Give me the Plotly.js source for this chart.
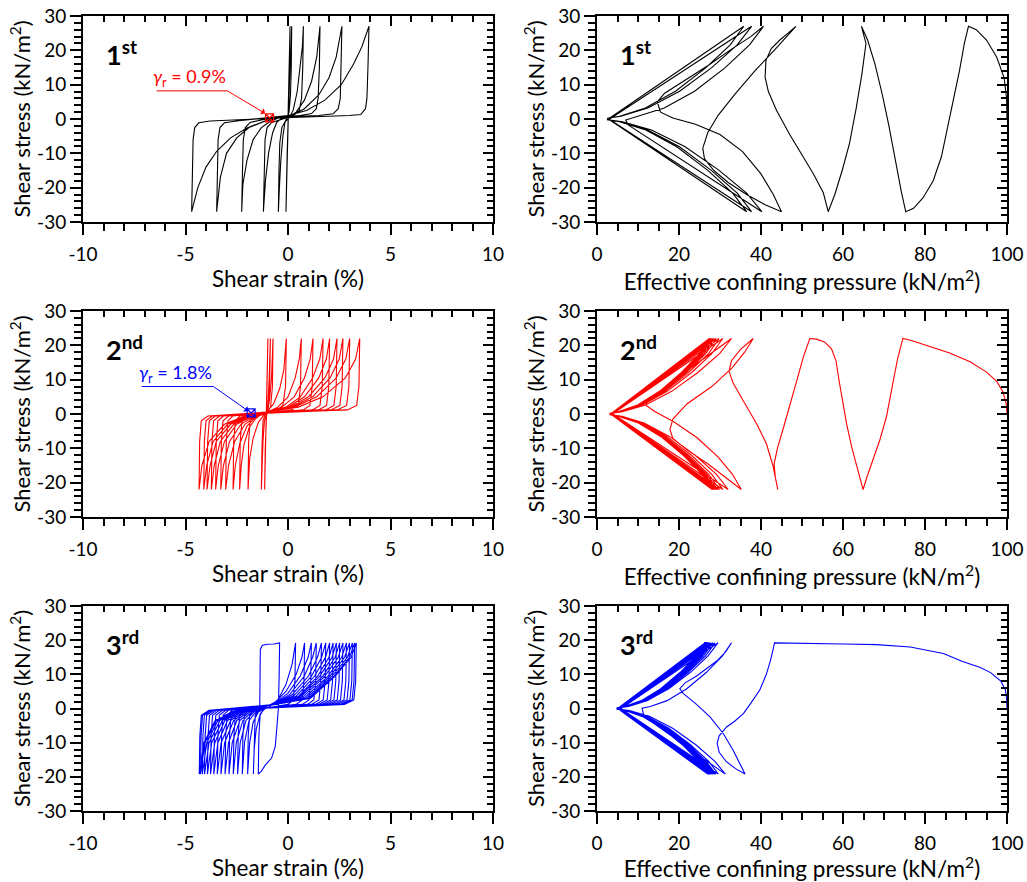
<!DOCTYPE html>
<html><head><meta charset="utf-8">
<script src="https://cdn.plot.ly/plotly-3.0.1.min.js"></script>
<style>html,body{margin:0;padding:0;background:#fff}#chart{width:1027px;height:882px}</style>
</head><body><div id="chart"></div>
<script>
// ---------- DATA ----------
// [shear strain (%), shear stress (kN/m2)] - stage 1
const stage1StressStrain = [
 [0,0],[0.03,10],[0.06,20],[0.10,27],
 [0.08,15],[0.04,5],[0,-2],[-0.04,-10],[-0.07,-18],[-0.10,-27],
 [-0.07,-15],[-0.03,-5],[0.02,2],[0.07,10],[0.12,18],[0.18,27],
 [0.16,15],[0.12,7],[0.05,2],[-0.05,0.5],[-0.15,-1],[-0.25,-5],[-0.35,-12],[-0.42,-20],[-0.47,-27],
 [-0.44,-15],[-0.40,-7],[-0.3,-2.5],[-0.15,-0.8],[0.05,0.3],[0.25,2.5],[0.45,8],[0.6,15],[0.7,21],[0.75,27],
 [0.72,15],[0.66,6],[0.55,2.5],[0.3,1.2],[0,0.8],[-0.3,0.3],[-0.55,-1],[-0.75,-4],[-0.95,-10],[-1.1,-18],[-1.2,-27],
 [-1.17,-15],[-1.12,-6],[-1.02,-2.5],[-0.8,-1],[-0.4,-0.3],[0,0.5],[0.4,2],[0.8,5.5],[1.15,11],[1.4,18],[1.56,27],
 [1.53,15],[1.47,6],[1.38,3],[1.15,1.6],[0.6,1],[0,0.7],[-0.5,0.2],[-0.9,-0.8],[-1.3,-2.5],[-1.7,-6],[-2.0,-12],[-2.2,-19],[-2.26,-27],
 [-2.22,-15],[-2.18,-6],[-2.08,-2.5],[-1.85,-1],[-1.3,-0.3],[-0.5,0.4],[0.2,1.2],[0.8,3],[1.5,7],[2.0,12],[2.35,18],[2.63,27],
 [2.6,15],[2.55,6],[2.45,3],[2.2,1.5],[1.5,1],[0.5,0.8],[-0.5,0.3],[-1.2,-0.8],[-1.9,-2.5],[-2.5,-5.5],[-3.0,-10],[-3.3,-17],[-3.48,-27],
 [-3.45,-15],[-3.41,-6],[-3.32,-2.5],[-3.1,-1.1],[-2.4,-0.5],[-1.2,0.3],[0,1],[0.9,2.5],[1.8,5.5],[2.6,10],[3.2,16],[3.6,21],[3.95,27],
 [3.9,15],[3.85,6],[3.78,3],[3.55,1.3],[3.0,1.0],[2,0.8],[0.5,0.6],[-0.5,0.3],[-1.0,-0.3],[-2.0,-2.6],[-2.8,-5.5],[-3.48,-9.4],[-4.0,-14],[-4.4,-20],[-4.7,-27],
 [-4.67,-15],[-4.63,-6],[-4.55,-2.5],[-4.35,-1.1],[-3.8,-0.6],[-2.5,-0.3],[-1.2,0],[-0.5,0.3]
];
// [effective confining pressure (kN/m2), shear stress (kN/m2)] - stage 1
const stage1StressPath = [
 [100,0],[99.9,6],[99.3,12],[97.5,18],[95,23],[92.5,26],[90.6,27],
 [89.6,22],[88.4,14],[87,6],[85.5,-3],[84,-11],[82,-18],[79.5,-23],[77.2,-26],[75.3,-27],
 [74.2,-21],[72.8,-12],[71.2,-2],[69.6,7],[67.8,16],[66,23],[64.5,27],
 [65.6,22],[64.6,13],[63.2,3],[61.6,-7],[59.8,-15],[58,-22],[56.4,-27],
 [55.2,-21.5],[52.8,-16],[50.3,-11],[47,-4.5],[43.8,2.5],[41.8,8],[41,12.2],[41.2,17],[42.5,20.5],[44.6,23],[46.6,25],[48.5,27],
 [44,21],[38.5,14],[33.5,7],[29.5,1],[27,-4],[25.8,-8.5],[26.2,-11.5],[28.5,-15],[32,-18.5],[36.5,-22],[41,-25],[45,-27],
 [43,-22],[40,-16],[35.5,-9.5],[30,-4.5],[24,-1.5],[18.5,0.3],[15.5,2],[14.7,5],[16.5,7.5],[21,11],[27,15.5],[33,20.5],[37.5,24],[40.6,27],
 [37.2,21.6],[31.2,14.9],[23.8,8.1],[16.4,3.2],[10,0.8],[7,-0.3],[7.6,-1.7],[40.2,-27],
 [36.5,-21.6],[29.7,-14.9],[21.5,-8.1],[13.3,-3.2],[6.2,-0.8],[2.8,-0.2],[37.7,27],
 [34.2,21.6],[27.9,14.9],[20.15,8.1],[12.4,3.2],[5.8,0.8],[2.6,0.2],[37.7,-27],
 [34.2,-21.6],[27.8,-14.9],[20.1,-8.1],[12.4,-3.2],[5.7,-0.8],[2.5,-0.2],[35.8,27],
 [32.5,21.6],[26.5,14.9],[19.15,8.1],[11.8,3.2],[5.5,0.8],[2.5,0.2],[36.5,-27],
 [33.1,-21.6],[26.95,-14.9],[19.45,-8.1],[11.9,-3.2],[5.5,-0.8],[2.4,-0.2]
];
// stage 2
const stage2StressStrain = [
 [-1.05,0],[-1.02,10],[-0.98,22],
 [-1.01,10],[-1.05,0],[-1.09,-10],[-1.14,-22],
 [-1.11,-10],[-1.05,-1],[-0.98,3],[-0.92,10],[-0.86,22],
 [-0.89,10],[-0.95,2],[-1.05,0.3],[-1.15,-2],[-1.22,-8],[-1.27,-15],[-1.30,-22],
 [-1.27,-10],[-1.22,-2],[-1.12,-0.2],[-1.0,1],[-0.9,4],[-0.8,11],[-0.73,22],
 [-0.76,8],[-0.85,2],[-1.0,0.5],[-1.2,-0.5],[-1.45,-2.5],[-1.7,-7],[-1.87,-13],[-1.95,-22],
 [-1.92,-8],[-1.85,-2],[-1.7,-0.6],[-1.3,0],[-1.0,0.8],[-0.7,3],[-0.4,7.5],[-0.2,13],[-0.08,22],
 [-0.12,8],[-0.25,2.5],[-0.55,1.2],[-1.0,0.6],[-1.3,0.0],[-1.6,-1.5],[-1.9,-4],[-2.15,-9],[-2.28,-15],[-2.36,-22],
 [-2.33,-8],[-2.25,-2],[-2.05,-0.6],[-1.5,-0.1],[-1.0,0.6],[-0.5,2],[0,5],[0.35,10.5],[0.55,16],[0.65,22],
 [0.61,8],[0.5,2.5],[0.2,1.2],[-0.5,0.7],[-1.2,0.1],[-1.6,-1],[-2.0,-3.5],[-2.35,-8.5],[-2.57,-15],[-2.68,-22],
 [-2.65,-8],[-2.57,-2],[-2.35,-0.6],[-1.7,-0.1],[-1.0,0.6],[-0.3,2],[0.3,5],[0.8,10.5],[1.08,16],[1.22,22],
 [1.18,8],[1.07,2.5],[0.75,1.2],[0,0.8],[-1.0,0.2],[-1.6,-0.8],[-2.1,-3],[-2.6,-8],[-2.9,-15],[-3.04,-22],
 [-3.01,-8],[-2.93,-2],[-2.7,-0.6],[-2.0,-0.1],[-1.0,0.6],[-0.1,2],[0.6,5],[1.2,10.5],[1.55,16],[1.71,22],
 [1.67,8],[1.56,2.5],[1.2,1.2],[0.3,0.8],[-1.0,0.2],[-1.7,-0.8],[-2.3,-3],[-2.85,-8],[-3.15,-15],[-3.28,-22],
 [-3.25,-8],[-3.17,-2],[-2.9,-0.6],[-2.1,-0.1],[-1.0,0.6],[0,2],[0.8,5],[1.5,10.5],[1.87,16],[2.03,22],
 [1.99,8],[1.88,2.5],[1.5,1.2],[0.5,0.8],[-1.0,0.2],[-1.8,-0.8],[-2.5,-3],[-3.1,-8],[-3.4,-15],[-3.53,-22],
 [-3.5,-8],[-3.42,-2],[-3.15,-0.6],[-2.2,-0.1],[-1.0,0.6],[0.1,2],[1.0,5],[1.8,10.5],[2.22,16],[2.39,22],
 [2.35,8],[2.24,2.5],[1.85,1.2],[0.7,0.8],[-1.0,0.2],[-1.9,-0.8],[-2.65,-3],[-3.3,-8],[-3.6,-15],[-3.74,-22],
 [-3.71,-8],[-3.63,-2],[-3.35,-0.6],[-2.3,-0.1],[-1.0,0.6],[0.2,2],[1.2,5],[2.05,10.5],[2.5,16],[2.68,22],
 [2.64,8],[2.53,2.5],[2.1,1.2],[0.8,0.8],[-1.0,0.2],[-2.0,-0.8],[-2.8,-3],[-3.5,-8],[-3.8,-15],[-3.95,-22],
 [-3.92,-8],[-3.84,-2],[-3.55,-0.6],[-2.4,-0.1],[-1.0,0.6],[0.3,2],[1.4,5],[2.35,10.5],[2.82,16],[3.01,22],
 [2.97,8],[2.86,2.5],[2.4,1.2],[1.0,0.8],[-1.0,0.2],[-2.1,-0.8],[-2.95,-3],[-3.65,-8],[-3.97,-15],[-4.11,-22],
 [-4.08,-8],[-4.0,-2],[-3.7,-0.6],[-2.5,-0.1],[-1.0,0.6],[0.5,2],[1.7,5],[2.8,10.5],[3.3,16],[3.50,22],
 [3.46,8],[3.35,2.5],[2.9,1.2],[1.2,0.8],[-1.0,0.2],[-2.2,-0.8],[-3.1,-3],[-3.85,-8],[-4.2,-15],[-4.34,-22],
 [-4.31,-8],[-4.23,-2],[-3.9,-0.6],[-2.6,-0.1],[-1.2,0.5]
];
const stage2StressPath = [
 [100,0],[99.8,3],[99,6.5],[97.5,9.5],[95,12.2],[91,15.2],[86,17.8],[80.5,20],[76.5,21.5],[74.6,22],
 [73.3,16],[72,8],[70.6,-0.8],[69,-7.5],[67,-14],[65.8,-18.5],[64.9,-22],
 [63.6,-16.5],[62.2,-10],[60.9,-3],[59.8,4],[59,10],[58.3,15.5],[57.2,19],[55.5,21],[53.5,21.8],[51.9,22],
 [50.3,16.5],[48.8,10],[47.3,4],[45.6,-3.5],[44,-10],[43.2,-14.5],[43.5,-18.5],[44.1,-22],
 [42.9,-15],[41.3,-8.6],[39,-3],[35.6,4],[33.2,9],[32.2,12.5],[32.8,15.5],[35,18.8],[38.1,22],
 [36,18],[33,13.5],[28,8],[22,3],[18.5,-1.5],[17.8,-4.5],[18.5,-7.1],[22,-10.5],[27,-14.5],[31.5,-18.5],[35.2,-22],
 [33,-17.5],[29.5,-12.5],[24.5,-7],[19,-2.5],[14,0.8],[12,2.5],[12.3,4.2],[14.5,6],[19,9.8],[25,15.2],[29.5,19.2],[32.8,22],
 [29.9,17.6],[24.6,12.1],[18.2,6.6],[11.8,2.6],[6.2,0.7],[3.6,0.2],[32.0,-22],
 [29.15,-17.6],[24.0,-12.1],[17.75,-6.6],[11.5,-2.6],[6.1,-0.7],[3.5,-0.2],[30.7,22],
 [28.0,17.6],[23.1,12.1],[17.1,6.6],[11.1,2.6],[5.9,0.7],[3.5,0.2],[30.7,-22],
 [28.0,-17.6],[23.1,-12.1],[17.1,-6.6],[11.1,-2.6],[5.9,-0.7],[3.5,-0.2],[29.8,22],
 [27.2,17.6],[22.4,12.1],[16.6,6.6],[10.8,2.6],[5.8,0.7],[3.4,0.2],[29.9,-22],
 [27.25,-17.6],[22.5,-12.1],[16.65,-6.6],[10.8,-2.6],[5.8,-0.7],[3.4,-0.2],[29.1,22],
 [26.5,17.6],[21.9,12.1],[16.25,6.6],[10.6,2.6],[5.7,0.7],[3.4,0.2],[29.4,-22],
 [26.8,-17.6],[22.1,-12.1],[16.35,-6.6],[10.6,-2.6],[5.65,-0.7],[3.3,-0.2],[28.6,22],
 [26.1,17.6],[21.5,12.1],[15.95,6.6],[10.4,2.6],[5.6,0.7],[3.3,0.2],[29.0,-22],
 [26.4,-17.6],[21.8,-12.1],[16.15,-6.6],[10.5,-2.6],[5.6,-0.7],[3.3,-0.2],[28.2,22],
 [25.7,17.6],[21.2,12.1],[15.75,6.6],[10.3,2.6],[5.5,0.7],[3.3,0.2],[28.7,-22],
 [26.15,-17.6],[21.55,-12.1],[15.95,-6.6],[10.3,-2.6],[5.5,-0.7],[3.2,-0.2],[27.9,22],
 [25.4,17.6],[21.0,12.1],[15.55,6.6],[10.1,2.6],[5.4,0.7],[3.2,0.2],[28.5,-22],
 [26.0,-17.6],[21.4,-12.1],[15.85,-6.6],[10.3,-2.6],[5.5,-0.7],[3.2,-0.2],[27.6,22],
 [25.2,17.6],[20.8,12.1],[15.4,6.6],[10.0,2.6],[5.4,0.7],[3.2,0.2],[28.3,-22],
 [25.8,-17.6],[21.2,-12.1],[15.7,-6.6],[10.2,-2.6],[5.4,-0.7],[3.1,-0.2],[27.4,22],
 [25.0,17.6],[20.6,12.1],[15.25,6.6],[9.9,2.6],[5.3,0.7],[3.1,0.2],[28.1,-22],
 [25.6,-17.6],[21.1,-12.1],[15.6,-6.6],[10.1,-2.6],[5.35,-0.7],[3.1,-0.2]
];
// stage 3
const stage3StressStrain = [
 [-1.38,0],[-1.38,8],[-1.37,14],[-1.35,17.3],[-1.25,18.5],[-1.0,18.8],[-0.7,18.9],[-0.5,19.0],[-0.41,19.2],
 [-0.43,10],[-0.47,0],[-0.55,-6],[-0.62,-11],[-0.8,-14.5],[-1.1,-16.5],[-1.3,-18.3],[-1.45,-19.2],
 [-1.42,-8],[-1.36,-2],[-1.2,-0.3],[-0.9,0.5],[-0.5,2.5],[-0.1,7],[0.2,13],[0.37,19.2],
 [0.34,8],[0.25,2.5],[0,1.2],[-0.6,0.6],[-1.1,0.1],[-1.35,-1.5],[-1.55,-6],[-1.65,-12],[-1.69,-19.2],
 [-1.66,-8],[-1.6,-2],[-1.45,-0.5],[-1.1,0.4],[-0.6,2],[-0.1,5],[0.4,10],[0.68,15],[0.81,19.2],
 [0.78,8],[0.69,2.5],[0.4,1.2],[-0.3,0.7],[-1.1,0.1],[-1.45,-1],[-1.7,-4],[-1.87,-10],[-1.97,-19.2],
 [-1.94,-8],[-1.87,-2],[-1.7,-0.5],[-1.2,0.3],[-0.6,1.8],[0,4.5],[0.6,9.5],[0.98,15],[1.14,19.2],
 [1.11,8],[1.02,2.5],[0.7,1.2],[-0.1,0.7],[-1.1,0.1],[-1.55,-0.9],[-1.9,-3.5],[-2.12,-10],[-2.23,-19.2],
 [-2.2,-8],[-2.13,-2],[-1.95,-0.5],[-1.3,0.2],[-0.6,1.6],[0.1,4.2],[0.8,9.5],[1.2,15],[1.38,19.2],
 [1.35,8],[1.26,2.5],[0.95,1.2],[0,0.7],[-1.1,0.1],[-1.65,-0.9],[-2.05,-3.5],[-2.33,-10],[-2.46,-19.2],
 [-2.43,-8],[-2.36,-2],[-2.15,-0.5],[-1.4,0.2],[-0.6,1.5],[0.2,4],[1.0,9.5],[1.44,15],[1.63,19.2],
 [1.6,8],[1.51,2.5],[1.15,1.2],[0.1,0.7],[-1.1,0.1],[-1.75,-0.9],[-2.2,-3.5],[-2.52,-10],[-2.67,-19.2],
 [-2.64,-8],[-2.57,-2],[-2.35,-0.5],[-1.5,0.2],[-0.6,1.4],[0.3,3.8],[1.15,9.5],[1.64,15],[1.84,19.2],
 [1.81,8],[1.72,2.5],[1.35,1.2],[0.2,0.7],[-1.1,0.1],[-1.85,-0.9],[-2.35,-3.5],[-2.72,-10],[-2.88,-19.2],
 [-2.85,-8],[-2.78,-2],[-2.55,-0.5],[-1.6,0.2],[-0.6,1.3],[0.4,3.6],[1.3,9.5],[1.83,15],[2.03,19.2],
 [2.0,8],[1.91,2.5],[1.5,1.2],[0.3,0.7],[-1.1,0.1],[-1.95,-0.9],[-2.5,-3.5],[-2.9,-10],[-3.07,-19.2],
 [-3.04,-8],[-2.97,-2],[-2.72,-0.5],[-1.7,0.2],[-0.6,1.2],[0.5,3.5],[1.45,9.5],[2.0,15],[2.2,19.2],
 [2.17,8],[2.08,2.5],[1.65,1.2],[0.4,0.7],[-1.1,0.1],[-2.05,-0.9],[-2.65,-3.5],[-3.09,-10],[-3.27,-19.2],
 [-3.24,-8],[-3.17,-2],[-2.9,-0.5],[-1.8,0.2],[-0.6,1.2],[0.55,3.4],[1.55,9.5],[2.15,15],[2.36,19.2],
 [2.33,8],[2.24,2.5],[1.8,1.2],[0.5,0.7],[-1.1,0.1],[-2.15,-0.9],[-2.8,-3.5],[-3.26,-10],[-3.45,-19.2],
 [-3.42,-8],[-3.35,-2],[-3.05,-0.5],[-1.9,0.2],[-0.6,1.2],[0.6,3.3],[1.7,9.5],[2.3,15],[2.52,19.2],
 [2.49,8],[2.4,2.5],[1.95,1.2],[0.6,0.7],[-1.1,0.1],[-2.25,-0.9],[-2.95,-3.5],[-3.42,-10],[-3.62,-19.2],
 [-3.59,-8],[-3.52,-2],[-3.2,-0.5],[-2.0,0.2],[-0.6,1.2],[0.7,3.2],[1.8,9.5],[2.45,15],[2.68,19.2],
 [2.65,8],[2.56,2.5],[2.1,1.2],[0.7,0.7],[-1.1,0.1],[-2.35,-0.9],[-3.08,-3.5],[-3.57,-10],[-3.78,-19.2],
 [-3.75,-8],[-3.68,-2],[-3.35,-0.5],[-2.1,0.2],[-0.6,1.2],[0.8,3.1],[1.95,9.5],[2.62,15],[2.85,19.2],
 [2.82,8],[2.73,2.5],[2.25,1.2],[0.8,0.7],[-1.1,0.1],[-2.45,-0.9],[-3.2,-3.5],[-3.72,-10],[-3.93,-19.2],
 [-3.9,-8],[-3.83,-2],[-3.5,-0.5],[-2.2,0.2],[-0.6,1.2],[0.9,3],[2.05,9.5],[2.76,15],[3.0,19.2],
 [2.97,8],[2.88,2.5],[2.4,1.2],[0.9,0.7],[-1.1,0.1],[-2.55,-0.9],[-3.32,-3.5],[-3.85,-10],[-4.07,-19.2],
 [-4.04,-8],[-3.97,-2],[-3.62,-0.5],[-2.3,0.2],[-0.6,1.2],[1.0,3],[2.15,9.5],[2.9,15],[3.14,19.2],
 [3.11,8],[3.02,2.5],[2.55,1.2],[1.0,0.7],[-1.1,0.1],[-2.6,-0.9],[-3.42,-3.5],[-3.96,-10],[-4.18,-19.2],
 [-4.15,-8],[-4.08,-2],[-3.72,-0.5],[-2.4,0.2],[-0.6,1.2],[1.05,3],[2.25,9.5],[3.0,15],[3.25,19.2],
 [3.22,8],[3.13,2.5],[2.65,1.2],[1.05,0.7],[-1.1,0.1],[-2.65,-0.9],[-3.5,-3.5],[-4.05,-10],[-4.27,-19.2],
 [-4.24,-8],[-4.17,-2],[-3.8,-0.5],[-2.45,0.2],[-0.6,1.2],[1.1,3],[2.3,9.5],[3.08,15],[3.33,19.2],
 [3.3,8],[3.21,2.5],[2.75,1.2],[1.1,0.7],[-1.1,0.1],[-2.7,-0.9],[-3.55,-3.5],[-4.1,-10],[-4.33,-19.2],
 [-4.3,-8],[-4.23,-2],[-3.85,-0.5],[-2.5,0.1]
];
const stage3StressPath = [
 [100,0],[99.9,3],[99.6,5.5],[98.5,8],[96,10.5],[93.5,12],[89,13.8],[84.5,16.1],[76.4,18.0],[68.2,18.7],[60.1,18.9],[52,19.0],[43.8,19.2],[43.3,19.2],
 [42.9,17],[42.3,14],[41.3,10],[39.7,5.4],[37.5,1.5],[35.7,-1.5],[33.5,-3.8],[31.6,-5.4],[29.8,-8],[29.3,-10.2],[29.8,-12.8],[31.5,-15.5],[33.8,-17.6],[36.1,-19.2],
 [34.8,-16],[33.2,-12.2],[30.8,-7.3],[27.5,-2.4],[24,1.5],[21,4.4],[20.2,5.8],[21.5,7.5],[24.3,9.5],[27,11.8],[29.2,13.9],[31.3,16.5],[32.8,19.2],
 [30.6,15.4],[26.7,10.6],[21.9,5.8],[17.1,2.3],[13.0,0.6],[11,0.1],[11.3,-1.5],[12.1,-2.9],[31.3,-19.2],
 [28.7,-15.4],[24.1,-10.6],[18.45,-5.8],[12.8,-2.3],[7.9,-0.6],[5.6,-0.2],[29.5,19.2],
 [27.1,15.4],[22.8,10.6],[17.5,5.8],[12.2,2.3],[7.7,0.6],[5.5,0.2],[29.6,-19.2],
 [27.2,-15.4],[22.8,-10.6],[17.5,-5.8],[12.2,-2.3],[7.6,-0.6],[5.4,-0.2],[28.8,19.2],
 [26.5,15.4],[22.2,10.6],[17.1,5.8],[11.95,2.3],[7.5,0.6],[5.4,0.2],[29.0,-19.2],
 [26.6,-15.4],[22.4,-10.6],[17.15,-5.8],[11.9,-2.3],[7.4,-0.6],[5.3,-0.2],[28.3,19.2],
 [26.0,15.4],[21.9,10.6],[16.8,5.8],[11.7,2.3],[7.4,0.6],[5.3,0.2],[28.7,-19.2],
 [26.35,-15.4],[22.1,-10.6],[16.95,-5.8],[11.8,-2.3],[7.3,-0.6],[5.2,-0.2],[27.9,19.2],
 [25.6,15.4],[21.5,10.6],[16.55,5.8],[11.55,2.3],[7.2,0.6],[5.2,0.2],[28.4,-19.2],
 [26.1,-15.4],[21.9,-10.6],[16.75,-5.8],[11.6,-2.3],[7.2,-0.6],[5.1,-0.2],[27.6,19.2],
 [25.35,15.4],[21.3,10.6],[16.35,5.8],[11.4,2.3],[7.1,0.6],[5.1,0.2],[28.2,-19.2],
 [25.9,-15.4],[21.7,-10.6],[16.65,-5.8],[11.6,-2.3],[7.2,-0.6],[5.1,-0.2],[27.4,19.2],
 [25.2,15.4],[21.1,10.6],[16.2,5.8],[11.3,2.3],[7.0,0.6],[5.0,0.2],[28.0,-19.2],
 [25.7,-15.4],[21.6,-10.6],[16.5,-5.8],[11.4,-2.3],[7.1,-0.6],[5.0,-0.2],[27.2,19.2],
 [25.0,15.4],[21.0,10.6],[16.1,5.8],[11.2,2.3],[7.0,0.6],[5.0,0.2],[27.8,-19.2],
 [25.5,-15.4],[21.4,-10.6],[16.4,-5.8],[11.4,-2.3],[7.05,-0.6],[5.0,-0.2],[27.0,19.2],
 [24.8,15.4],[20.8,10.6],[15.95,5.8],[11.1,2.3],[6.9,0.6],[4.9,0.2],[27.7,-19.2],
 [25.4,-15.4],[21.3,-10.6],[16.3,-5.8],[11.3,-2.3],[6.95,-0.6],[4.9,-0.2],[26.9,19.2],
 [24.7,15.4],[20.7,10.6],[15.9,5.8],[11.05,2.3],[6.9,0.6],[4.9,0.2],[27.6,-19.2],
 [25.3,-15.4],[21.2,-10.6],[16.25,-5.8],[11.3,-2.3],[6.95,-0.6],[4.9,-0.2],[26.8,19.2],
 [24.6,15.4],[20.7,10.6],[15.85,5.8],[11.0,2.3],[6.9,0.6],[4.9,0.2],[27.5,-19.2],
 [25.2,-15.4],[21.2,-10.6],[16.2,-5.8],[11.2,-2.3],[6.9,-0.6],[4.9,-0.2],[26.7,19.2],
 [24.5,15.4],[20.6,10.6],[15.75,5.8],[10.9,2.3],[6.8,0.6],[4.8,0.2],[27.4,-19.2],
 [25.1,-15.4],[21.1,-10.6],[16.1,-5.8],[11.1,-2.3],[6.8,-0.6],[4.8,-0.2],[26.6,19.2],
 [24.4,15.4],[20.5,10.6],[15.7,5.8],[10.9,2.3],[6.8,0.6],[4.8,0.2],[27.3,-19.2],
 [25.1,-15.4],[21.0,-10.6],[16.05,-5.8],[11.1,-2.3],[6.8,-0.6],[4.8,-0.2],[26.5,19.2],
 [24.3,15.4],[20.4,10.6],[15.65,5.8],[10.9,2.3],[6.75,0.6],[4.8,0.2],[27.2,-19.2],
 [25.0,-15.4],[20.9,-10.6],[16.0,-5.8],[11.1,-2.3],[6.8,-0.6],[4.8,-0.2],[26.4,19.2],
 [24.2,15.4],[20.4,10.6],[15.6,5.8],[10.85,2.3],[6.75,0.6],[4.8,0.2],[27.1,-19.2],
 [24.9,-15.4],[20.9,-10.6],[15.95,-5.8],[11.05,-2.3],[6.8,-0.6],[4.8,-0.2],[26.3,19.2],
 [24.15,15.4],[20.3,10.6],[15.55,5.8],[10.8,2.3],[6.7,0.6],[4.8,0.2],[27.0,-19.2],
 [24.8,-15.4],[20.8,-10.6],[15.9,-5.8],[11.0,-2.3],[6.8,-0.6],[4.8,-0.2]
];
// reference strain points (gamma_r) marked in stages 1 and 2
const gammaRLabels = ['0.9%', '1.8%'];
const gammaRStrain = [-0.9, -1.8];
const gammaRStress = [0.3, 0.3];
const stageLabels = ['1<sup>st</sup>', '2<sup>nd</sup>', '3<sup>rd</sup>'];
// tick labels (plain hyphen minus, as in the reference)
const strainTickVals = [-10, -5, 0, 5, 10];
const strainTickText = ['-10', '-5', '0', '5', '10'];
const pressureTickVals = [0, 20, 40, 60, 80, 100];
const pressureTickText = ['0', '20', '40', '60', '80', '100'];
const stressTickVals = [-30, -20, -10, 0, 10, 20, 30];
const stressTickText = ['-30', '-20', '-10', '0', '10', '20', '30'];
const xTitleLeft = 'Shear strain (%)';
const xTitleRight = 'Effective confining pressure (kN/m<sup>2</sup>)';
const yTitle = 'Shear stress (kN/m<sup>2</sup>)';

// ---------- STYLE ----------
const FONT = 'Lato, "Liberation Sans", Arial, sans-serif';
const stageColors = ['#000000', '#ff0000', '#0000ff'];
const markColors = ['#ff0000', '#0000ff'];
const xDom = [[83/1027, 493/1027], [597/1027, 1007/1027]];
const yDom = [[(882-222)/882, (882-16)/882], [(882-517)/882, (882-311)/882], [(882-811)/882, (882-606)/882]];

const stressStrain = [stage1StressStrain, stage2StressStrain, stage3StressStrain];
const stressPath = [stage1StressPath, stage2StressPath, stage3StressPath];

const traces = [];
const layout = {
  width: 1027, height: 882, margin: {l:0, r:0, t:0, b:0},
  paper_bgcolor: '#fff', plot_bgcolor: 'rgba(0,0,0,0)',
  showlegend: false, font: {family: FONT, color: '#000'},
  annotations: [], shapes: []
};

function mainX(dom, anchor, range, vals, text, minor, title) {
  return {domain: dom, anchor: anchor, range: range, tickmode: 'array', tickvals: vals, ticktext: text,
    ticks: 'outside', ticklen: 11, tickwidth: 2, tickcolor: '#000', ticklabelstandoff: 3,
    minor: {tickmode: 'linear', tick0: range[0], dtick: minor, ticks: 'outside', ticklen: 7, tickwidth: 2, tickcolor: '#000', showgrid: false},
    showline: true, linewidth: 2, linecolor: '#000', mirror: true,
    showgrid: false, zeroline: false, fixedrange: true,
    tickfont: {family: FONT, size: 19, color: '#000'},
    title: {text: title, font: {family: FONT, size: 22.5, color: '#000'}, standoff: 0}};
}
function mainY(dom, anchor, title) {
  return {domain: dom, anchor: anchor, range: [-30, 30], tickmode: 'array', tickvals: stressTickVals, ticktext: stressTickText,
    ticks: 'outside', ticklen: 11, tickwidth: 2, tickcolor: '#000',
    minor: {tickmode: 'linear', tick0: -30, dtick: 2, ticks: 'outside', ticklen: 7, tickwidth: 2, tickcolor: '#000', showgrid: false},
    showline: true, linewidth: 2, linecolor: '#000', mirror: true,
    showgrid: false, zeroline: false, fixedrange: true,
    tickfont: {family: FONT, size: 19, color: '#000'},
    title: {text: title, font: {family: FONT, size: 22, color: '#000'}, standoff: 0}};
}
function innerAxis(over, anchor, side, range, dtick, minor) {
  return {overlaying: over, anchor: anchor, side: side, range: range, tick0: range[0], dtick: dtick,
    ticks: 'inside', ticklen: 10, tickwidth: 2, tickcolor: '#000',
    minor: {dtick: minor, ticks: 'inside', ticklen: 6, tickwidth: 2, tickcolor: '#000', showgrid: false},
    showticklabels: false, showline: false, showgrid: false, zeroline: false, fixedrange: true};
}

for (let r = 0; r < 3; r++) {
  for (let c = 0; c < 2; c++) {
    const i = r * 2 + c + 1;
    const xs = i === 1 ? 'x' : 'x' + i, ys = i === 1 ? 'y' : 'y' + i;
    const xk = i === 1 ? 'xaxis' : 'xaxis' + i, yk = i === 1 ? 'yaxis' : 'yaxis' + i;
    const xr = c === 0 ? [-10, 10] : [0, 100];
    const xd = c === 0 ? 5 : 20, xm = c === 0 ? 1 : 5;
    layout[xk] = mainX(xDom[c], ys, xr, c === 0 ? strainTickVals : pressureTickVals,
      c === 0 ? strainTickText : pressureTickText, xm, c === 0 ? xTitleLeft : xTitleRight);
    layout[yk] = mainY(yDom[r], xs, yTitle);
    // inner ticks on top and right frame
    const ti = i + 6;
    layout['xaxis' + ti] = innerAxis(xs, ys, 'top', xr, xd, xm);
    layout['yaxis' + ti] = innerAxis(ys, xs, 'right', [-30, 30], 10, 2);
    traces.push({type: 'scatter', x: [], y: [], xaxis: 'x' + ti, yaxis: ys, hoverinfo: 'skip'});
    traces.push({type: 'scatter', x: [], y: [], xaxis: xs, yaxis: 'y' + ti, hoverinfo: 'skip'});

    const data = c === 0 ? stressStrain[r] : stressPath[r];
    traces.push({type: 'scatter', mode: 'lines', x: data.map(p => p[0]), y: data.map(p => p[1]),
      xaxis: xs, yaxis: ys, line: {color: stageColors[r], width: 1.1}, hoverinfo: 'skip'});

    layout.annotations.push({xref: xs + ' domain', yref: ys + ' domain', x: 0.05, y: 0.82,
      xanchor: 'left', yanchor: 'middle', showarrow: false,
      text: '<b>' + stageLabels[r] + '</b>', font: {family: FONT, size: 27, color: '#000'}});
  }
}

// gamma_r markers and callouts (stage 1 -> left panel 1, stage 2 -> left panel 3)
const calloutAxes = [['x', 'y'], ['x3', 'y3']];
const linePos = [[-6.41, -2.96, 8.2], [-7.14, -3.64, 8.0]];
const arrowTip = [[-1.12, 1.66], [-1.94, 0.9]];
for (let k = 0; k < 2; k++) {
  const [xa, ya] = calloutAxes[k];
  traces.push({type: 'scatter', mode: 'markers', x: [gammaRStrain[k]], y: [gammaRStress[k]], xaxis: xa, yaxis: ya,
    marker: {symbol: 'square-x-open', size: 8, color: markColors[k], line: {width: 1.2, color: markColors[k]}}, hoverinfo: 'skip'});
  layout.shapes.push({type: 'line', xref: xa, yref: ya, x0: linePos[k][0], x1: linePos[k][1], y0: linePos[k][2], y1: linePos[k][2],
    line: {color: markColors[k], width: 1}});
  layout.annotations.push({xref: xa, yref: ya, axref: xa, ayref: ya, x: arrowTip[k][0], y: arrowTip[k][1],
    ax: linePos[k][1], ay: linePos[k][2], xanchor: 'right', yanchor: 'bottom', borderpad: 0,
    text: '<i>γ</i><sub>r</sub> = ' + gammaRLabels[k], font: {family: FONT, size: 18, color: markColors[k]},
    showarrow: true, arrowhead: 1, arrowsize: 1.2, arrowwidth: 1, arrowcolor: markColors[k], standoff: 0, startstandoff: 0});
}

Plotly.newPlot('chart', traces, layout, {staticPlot: true, displayModeBar: false});
</script>
</body></html>
